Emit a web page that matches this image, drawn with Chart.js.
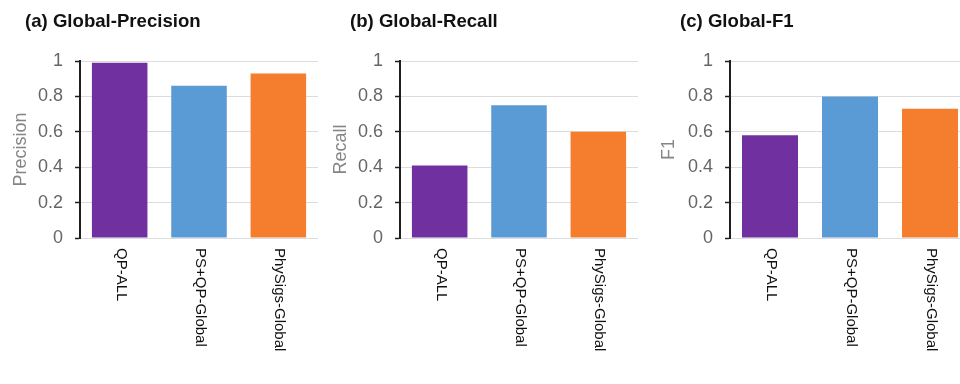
<!DOCTYPE html>
<html>
<head>
<meta charset="utf-8">
<script src="https://cdn.jsdelivr.net/npm/chart.js@4/dist/chart.umd.min.js"></script>
<style>
  html, body { margin: 0; padding: 0; background: #ffffff; }
  #wrap { position: relative; width: 960px; height: 384px; overflow: hidden; background: #ffffff; }
  #wrap canvas { position: absolute; top: 0; }
</style>
</head>
<body>
<div id="wrap">
  <canvas id="cPrecision" width="320" height="384" style="left:0px"></canvas>
  <canvas id="cRecall" width="320" height="384" style="left:320px"></canvas>
  <canvas id="cF1" width="340" height="384" style="left:640px"></canvas>
</div>
<script>
// Methods compared in every panel
const categories = ['QP-ALL', 'PS+QP-Global', 'PhySigs-Global'];

// Scores per method
const precisionValues = [0.99, 0.86, 0.93];
const recallValues    = [0.41, 0.75, 0.60];
const f1Values        = [0.58, 0.80, 0.73];

// Panel titles and y-axis titles
const panelTitles = ['(a) Global-Precision', '(b) Global-Recall', '(c) Global-F1'];
const axisTitles  = ['Precision', 'Recall', 'F1'];

// Bar colours, one per method
const barColors = ['#7030A0', '#5B9BD5', '#F47E2E'];

const FONT = "'Liberation Sans', Arial, Helvetica, sans-serif";

// Panel heading drawn in the top-left corner of each canvas
function titlePlugin(text, x) {
  return {
    id: 'panelTitle',
    afterDraw(chart) {
      const ctx = chart.ctx;
      ctx.save();
      ctx.font = 'bold 18.6px ' + FONT;
      ctx.fillStyle = '#111111';
      ctx.textAlign = 'left';
      ctx.textBaseline = 'alphabetic';
      ctx.fillText(text, x, 27);
      ctx.restore();
    }
  };
}

// Category names written downward under each bar
const verticalLabels = {
  id: 'verticalLabels',
  afterDraw(chart) {
    const ctx = chart.ctx;
    const xs = chart.scales.x;
    const top = chart.chartArea.bottom + 10;
    ctx.save();
    ctx.font = '15px ' + FONT;
    ctx.fillStyle = '#111111';
    ctx.textAlign = 'left';
    ctx.textBaseline = 'middle';
    chart.data.labels.forEach((lab, i) => {
      const px = xs.getPixelForValue(i);
      ctx.save();
      ctx.translate(px + 1, top);
      ctx.rotate(Math.PI / 2);
      ctx.fillText(lab, 0, 0);
      ctx.restore();
    });
    ctx.restore();
  }
};

function makePanel(canvasId, values, idx, yWidth, rightPad, titleX, axisTitlePad) {
  return new Chart(document.getElementById(canvasId), {
    type: 'bar',
    data: {
      labels: categories,
      datasets: [{
        data: values,
        backgroundColor: barColors,
        borderWidth: 0,
        barPercentage: 0.7,
        categoryPercentage: 1.0
      }]
    },
    options: {
      responsive: false,
      animation: false,
      devicePixelRatio: 1,
      layout: { padding: { top: 61, bottom: 146, left: 0, right: rightPad } },
      plugins: {
        legend: { display: false },
        tooltip: { enabled: false },
        title: { display: false }
      },
      scales: {
        x: {
          display: false
        },
        y: {
          min: 0,
          max: 1,
          afterFit(scale) { scale.width = yWidth; },
          ticks: {
            stepSize: 0.2,
            padding: 12,
            color: '#666666',
            font: { family: FONT, size: 18 },
            callback: (v) => String(Number(v.toFixed(1)))
          },
          grid: {
            color: '#dcdcdc',
            lineWidth: 1,
            drawTicks: true,
            tickLength: 5,
            tickColor: '#1e1e1e',
            tickWidth: 1.5
          },
          border: { display: true, color: '#1e1e1e', width: 2 },
          title: {
            display: true,
            text: axisTitles[idx],
            color: '#858585',
            font: { family: FONT, size: 18 },
            padding: { top: axisTitlePad, bottom: 0 }
          }
        }
      }
    },
    plugins: [titlePlugin(panelTitles[idx], titleX), verticalLabels]
  });
}

makePanel('cPrecision', precisionValues, 0, 80, 2, 25, 10);
makePanel('cRecall', recallValues, 1, 80, 2, 30, 10);
makePanel('cF1', f1Values, 2, 90, 10, 40, 18);
</script>
</body>
</html>
